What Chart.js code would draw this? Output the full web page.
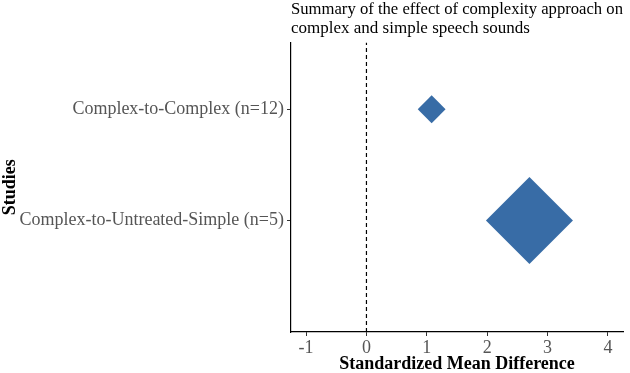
<!DOCTYPE html>
<html>
<head>
<meta charset="utf-8">
<script src="https://cdn.jsdelivr.net/npm/chart.js@4"></script>
<style>
  html, body { margin: 0; padding: 0; background: #fff; }
  canvas { display: block; }
</style>
</head>
<body>
<canvas id="forestChart" width="630" height="373"></canvas>
<script>
// studies from top to bottom, y position = row number
const studies = ["Complex-to-Complex (n=12)", "Complex-to-Untreated-Simple (n=5)"];
const studyRows = [2, 1];
const estimates = [1.08, 2.70];
const weights = [0.32, 1.0];
const xTicks = [-1, 0, 1, 2, 3, 4];
const titleLines = ["Summary of the effect of complexity approach on", "complex and simple speech sounds"];

const serif = "'Liberation Serif', 'DejaVu Serif', serif";
const blue = "#386ca6";

const diamonds = estimates.map((v, i) => ({ x: v, y: studyRows[i] }));

new Chart(document.getElementById("forestChart"), {
    type: "scatter",
    data: {
        datasets: [
            {
                type: "line",
                data: [{ x: 0, y: 0 }, { x: 0, y: 2.6 }],
                borderColor: "#000",
                borderWidth: 1.2,
                borderDash: [4, 3],
                pointRadius: 0,
                fill: false
            },
            {
                data: diamonds,
                pointStyle: "rectRot",
                pointRadius: ctx => weights[ctx.dataIndex] * 43.5,
                pointHoverRadius: ctx => weights[ctx.dataIndex] * 43.5,
                backgroundColor: blue,
                borderColor: blue,
                borderWidth: 0
            }
        ]
    },
    options: {
        responsive: false,
        animation: false,
        devicePixelRatio: 1,
        layout: { autoPadding: false, padding: { left: 0, right: 7, top: 0, bottom: 0 } },
        plugins: {
            legend: { display: false },
            tooltip: { enabled: false },
            title: {
                display: true,
                text: titleLines,
                align: "start",
                fullSize: false,
                color: "#000",
                font: { family: serif, size: 17, weight: "normal", lineHeight: 1.1 },
                padding: { top: 0, bottom: 5 }
            }
        },
        scales: {
            x: {
                type: "linear",
                min: -1.25,
                max: 4.25,
                afterBuildTicks: scale => { scale.ticks = xTicks.map(v => ({ value: v })); },
                afterFit: scale => { scale.height = 41; },
                ticks: {
                    color: "#555",
                    font: { family: serif, size: 18, lineHeight: 1 },
                    padding: 3
                },
                grid: { display: true, drawOnChartArea: false, drawTicks: true, tickLength: 4, color: "#333" },
                border: { display: true, color: "#000", width: 1.2 },
                title: {
                    display: true,
                    text: "Standardized Mean Difference",
                    color: "#000",
                    font: { family: serif, size: 18, weight: "bold", lineHeight: 1 },
                    padding: { top: 0, bottom: 0 }
                }
            },
            y: {
                type: "linear",
                min: 0,
                max: 2.6,
                afterBuildTicks: scale => { scale.ticks = studyRows.map(v => ({ value: v })); },
                afterFit: scale => { scale.width = 291; },
                ticks: {
                    color: "#555",
                    font: { family: serif, size: 18 },
                    padding: 3,
                    callback: value => studies[studyRows.indexOf(value)]
                },
                grid: { display: true, drawOnChartArea: false, drawTicks: true, tickLength: 4, color: "#333" },
                border: { display: true, color: "#000", width: 1.2 },
                title: {
                    display: true,
                    text: "Studies",
                    color: "#000",
                    font: { family: serif, size: 18, weight: "bold" },
                    padding: { top: 0, bottom: 0 }
                }
            }
        }
    }
});
</script>
</body>
</html>
